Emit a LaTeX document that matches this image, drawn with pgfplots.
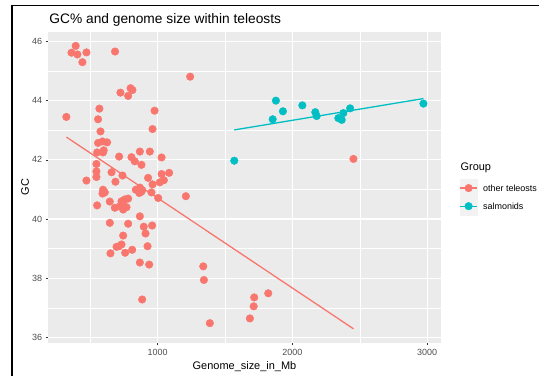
\documentclass[border=0pt]{standalone}
\usepackage{fontspec}
\setmainfont{Liberation Sans}
\usepackage{pgfplots}
\pgfplotsset{compat=1.18}
\definecolor{redc}{HTML}{F8766D}
\definecolor{tealc}{HTML}{00BFC4}
\definecolor{panelbg}{HTML}{EBEBEB}
\definecolor{grey30}{HTML}{4D4D4D}
\definecolor{grey20}{HTML}{333333}
\definecolor{keybg}{HTML}{F2F2F2}
\begin{document}
\begin{tikzpicture}
\path[use as bounding box] (-48.3bp,-33.3bp) rectangle (490.7bp,342.7bp);
\begin{axis}[
  at={(0,0)}, anchor=south west,
  scale only axis, width=392.4bp, height=311bp,
  xmin=190, xmax=3100, ymin=35.82, ymax=46.33,
  xtick={1000,2000,3000}, xticklabels={1000,2000,3000},
  ytick={36,38,40,42,44,46}, yticklabels={36,38,40,42,44,46},
  minor xtick={500,1500,2500}, minor ytick={37,39,41,43,45},
  grid=both,
  major grid style={white, line width=1.07bp},
  minor grid style={white, line width=0.53bp},
  minor tick length=0pt,
  major tick length=2.75bp,
  tick align=outside,
  tick pos=left,
  tick style={grey20, line width=0.5bp},
  axis line style={draw=none},
  axis background/.style={fill=panelbg},
  ticklabel style={font=\fontsize{9}{10}\selectfont, text=grey30},
  title={GC\% and genome size within teleosts},
  title style={at={(axis description cs:0.0025,1.0077)}, anchor=base west, inner sep=0pt, font=\fontsize{13.8}{16}\selectfont},
  xlabel={Genome\_size\_in\_Mb},
  ylabel={GC},
  xlabel style={at={(axis description cs:0.5,-0.0846)}, anchor=base, inner sep=0pt, font=\fontsize{11}{13}\selectfont},
  ylabel style={at={(axis description cs:-0.0594,0.5)}, anchor=center, inner sep=0pt, font=\fontsize{11}{13}\selectfont},
  legend cell align=left,
  legend style={at={(axis description cs:1.0474,0.578)}, anchor=north west, draw=none, fill=none,
    inner sep=0pt, outer sep=0pt, row sep=0.4bp, column sep=5.2bp,
    nodes={inner sep=0pt, anchor=base west, yshift=-3.2bp, font=\fontsize{9}{10}\selectfont}},
]
\addplot[redc, only marks, mark=*, mark size=3.8bp, mark options={draw=none, fill=redc}, forget plot] table {
x y
324 43.45
362 45.62
393 45.85
406 45.56
443 45.30
473 45.63
685 45.66
1242 44.81
725 44.27
800 44.42
814 44.36
782 44.16
978 43.66
569 43.73
559 43.37
577 42.96
963 43.04
559 42.57
592 42.62
626 42.59
552 42.25
596 42.25
601 42.32
715 42.11
869 42.28
943 42.28
807 42.09
831 41.95
881 41.83
1030 42.08
547 41.86
547 41.61
659 41.58
740 41.47
547 41.42
473 41.30
688 41.26
930 41.39
1030 41.52
1086 41.56
1047 41.31
1017 41.24
963 41.17
858 41.00
870 41.06
880 40.92
886 40.98
865 40.88
839 40.99
955 40.90
1005 40.71
1210 40.77
596 40.99
609 40.90
592 40.86
646 40.59
552 40.46
683 40.38
733 40.60
757 40.66
782 40.69
720 40.43
745 40.32
770 40.40
740 40.51
869 40.09
646 39.87
782 39.84
898 39.74
960 39.78
911 39.51
745 39.44
696 39.06
715 39.08
733 39.14
812 38.96
926 39.08
651 38.84
760 38.86
869 38.53
938 38.46
886 37.28
1339 38.40
1344 37.94
1388 36.48
1685 36.64
1713 37.05
1717 37.35
1821 37.49
2453 42.03
};
\addplot[tealc, only marks, mark=*, mark size=3.8bp, mark options={draw=none, fill=tealc}, forget plot] table {
x y
1569 41.97
1854 43.37
1878 44.00
1930 43.64
2074 43.84
2170 43.61
2180 43.48
2341 43.41
2366 43.35
2378 43.58
2428 43.74
2972 43.90
};
\addplot[redc, line width=1.3bp, forget plot] coordinates {(324,42.77) (2453,36.29)};
\addplot[tealc, line width=1.3bp, forget plot] coordinates {(1569,43.01) (2972,44.07)};
\addlegendimage{legend image code/.code={\path[draw=none, fill=none] (0bp,-11.45bp) rectangle (17.3bp,0bp);}}
\addlegendentry{\hspace*{-22.5bp}\fontsize{11}{13}\selectfont Group}
\addlegendimage{legend image code/.code={
  \fill[keybg] (0bp,-8.65bp) rectangle (17.3bp,8.65bp);
  \draw[redc, line width=1.3bp] (0bp,0bp) -- (17.3bp,0bp);
  \fill[redc] (8.65bp,0bp) circle (3.8bp);}}
\addlegendentry{other teleosts}
\addlegendimage{legend image code/.code={
  \fill[keybg] (0bp,-8.65bp) rectangle (17.3bp,8.65bp);
  \draw[tealc, line width=1.3bp] (0bp,0bp) -- (17.3bp,0bp);
  \fill[tealc] (8.65bp,0bp) circle (3.8bp);}}
\addlegendentry{salmonids}
\end{axis}
\draw[black, line width=1.2bp] (-36.3bp,-33.3bp) -- (-36.3bp,337bp) -- (490.7bp,337bp);
\end{tikzpicture}
\end{document}
